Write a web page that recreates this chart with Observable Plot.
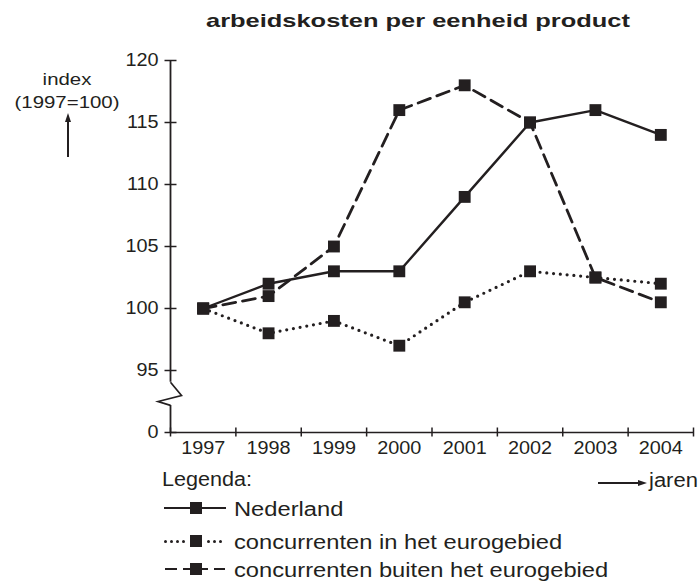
<!DOCTYPE html>
<html><head><meta charset="utf-8">
<script src="https://cdn.jsdelivr.net/npm/d3@7"></script>
<script src="https://cdn.jsdelivr.net/npm/@observablehq/plot@0.6"></script>
<style>
html,body{margin:0;padding:0;background:#fff;}
#page{position:relative;width:700px;height:584px;overflow:hidden;font-family:"Liberation Sans",Arial,sans-serif;color:#231f20;}
.t{position:absolute;white-space:nowrap;}
.t span{display:inline-block;}
#chart{position:absolute;left:0;top:40px;}
.pc{position:absolute;background:#231f20;}
</style></head><body>
<div id="page"><div id="chart"></div></div>
<script>
// ---- data ----
const years = [1997, 1998, 1999, 2000, 2001, 2002, 2003, 2004];
const nederland = [100, 102, 103, 103, 109, 115, 116, 114];
const eurogebied = [100, 98, 99, 97, 100.5, 103, 102.5, 102];
const buitenEurogebied = [100, 101, 105, 116, 118, 115, 102.5, 100.5];
const seriesNames = ["Nederland", "concurrenten in het eurogebied", "concurrenten buiten het eurogebied"];
const yTickValues = [95, 100, 105, 110, 115, 120];
const zeroLabel = "0";
const titleText = "arbeidskosten per eenheid product";
const yLabelLines = ["index", "(1997=100)"];
const xLabelText = "jaren";
const legendTitle = "Legenda:";

// value at which the broken axis shows "0"
const ZERO_AT = 90;
const BREAK_LOW = 92.18, BREAK_MID = 93.12, BREAK_HIGH = 94.06;
const ink = "#231f20";

const seriesValues = [nederland, eurogebied, buitenEurogebied];
const table = seriesNames.flatMap((name, s) =>
  seriesValues[s].map((v, i) => ({year: years[i], value: v, series: name})));
const bySeries = name => table.filter(d => d.series === name);
const xEdges = d3.range(years.length + 1).map(i => years[0] - 0.5 + i);

// custom symbols (pixel shapes)
const hTick = {draw(c) { c.moveTo(-6, 0); c.lineTo(6, 0); }};
const vTick = {draw(c) { c.moveTo(0, -5); c.lineTo(0, 4); }};
const zigzag = {draw(c) { c.moveTo(0, -11.6); c.lineTo(11, 1.7); c.lineTo(-12.4, 7.7); c.lineTo(0, 11.6); }};

const plot = Plot.plot({
  width: 700, height: 430,
  marginTop: 20, marginBottom: 38, marginLeft: 170, marginRight: 7,
  style: {fontFamily: '"Liberation Sans", Arial, sans-serif', fontSize: "18px", color: ink, background: "transparent", overflow: "visible"},
  x: {domain: [xEdges[0], xEdges[xEdges.length - 1]], ticks: years, tickSize: 0, tickPadding: 9, tickFormat: d => String(d), label: null},
  y: {domain: [ZERO_AT, yTickValues[yTickValues.length - 1]], ticks: [ZERO_AT, ...yTickValues], tickSize: 0, tickPadding: 12,
      tickFormat: d => d === ZERO_AT ? zeroLabel : String(d), label: null},
  marks: [
    Plot.ruleY([ZERO_AT], {x1: xEdges[0], x2: xEdges[xEdges.length - 1], stroke: ink, strokeWidth: 1.7}),
    Plot.ruleX([xEdges[0]], {y1: ZERO_AT, y2: BREAK_LOW, stroke: ink, strokeWidth: 1.8}),
    Plot.ruleX([xEdges[0]], {y1: BREAK_HIGH, y2: yTickValues[yTickValues.length - 1], stroke: ink, strokeWidth: 1.8}),
    Plot.dot([BREAK_MID], {x: () => xEdges[0], y: d => d, symbol: zigzag, stroke: ink, fill: "none", strokeWidth: 1.7}),
    Plot.dot([ZERO_AT, ...yTickValues], {x: () => xEdges[0], y: d => d, symbol: hTick, stroke: ink, fill: "none", strokeWidth: 1.5}),
    Plot.dot(xEdges, {x: d => d, y: () => ZERO_AT, symbol: vTick, stroke: ink, fill: "none", strokeWidth: 1.5}),
    Plot.line(bySeries(seriesNames[1]), {x: "year", y: "value", stroke: ink, strokeWidth: 3.2, strokeDasharray: "0 6.8", strokeLinecap: "round"}),
    Plot.line(bySeries(seriesNames[2]), {x: "year", y: "value", stroke: ink, strokeWidth: 2.8, strokeDasharray: "13 7"}),
    Plot.line(bySeries(seriesNames[0]), {x: "year", y: "value", stroke: ink, strokeWidth: 2.4}),
    Plot.dot(table, {x: "year", y: "value", symbol: "square", r: 6.7, fill: ink, stroke: null})
  ]
});
document.getElementById("chart").appendChild(plot);
plot.querySelectorAll('g[aria-label$="tick label"] text').forEach(t => {
  const L = t.getComputedTextLength();
  t.setAttribute("textLength", (L * 1.1).toFixed(1));
  t.setAttribute("lengthAdjust", "spacingAndGlyphs");
});

// ---- text & decorations ----
const page = document.getElementById("page");
function label(text, {x, baseline, size, weight = 400, width = null, k = 1, anchor = "start"}) {
  const d = document.createElement("div");
  d.className = "t";
  d.style.left = x + "px";
  d.style.top = (baseline - 0.8465 * size) + "px";
  d.style.fontSize = size + "px";
  d.style.lineHeight = size + "px";
  d.style.fontWeight = weight;
  const s = document.createElement("span");
  s.textContent = text;
  d.appendChild(s);
  page.appendChild(d);
  if (width) k = width / s.getBoundingClientRect().width;
  if (anchor === "middle") { d.style.transformOrigin = "center"; d.style.transform = `translateX(-50%) scaleX(${k})`; }
  else { d.style.transformOrigin = "left center"; d.style.transform = `scaleX(${k})`; }
}
function piece(x, y, w, h, extra = {}) {
  const d = document.createElement("div");
  d.className = "pc";
  Object.assign(d.style, {left: x + "px", top: y + "px", width: w + "px", height: h + "px"}, extra);
  page.appendChild(d);
}
const hline = (x1, x2, y, th) => piece(x1, y - th / 2, x2 - x1, th);
const vline = (x, y1, y2, th) => piece(x - th / 2, y1, th, y2 - y1);
const dotP = (cx, cy, r) => piece(cx - r, cy - r, 2 * r, 2 * r, {borderRadius: "50%"});
const square = (cx, cy, s) => piece(cx - s / 2, cy - s / 2, s, s);
const triUp = (cx, tipY, w, h) => piece(cx - w / 2, tipY, w, h, {clipPath: "polygon(50% 0, 100% 100%, 0 100%)"});
const triRight = (tipX, cy, w, h) => piece(tipX - w, cy - h / 2, w, h, {clipPath: "polygon(0 0, 100% 50%, 0 100%)"});

label(titleText, {x: 206, baseline: 27, size: 19, weight: 700, width: 424});
label(yLabelLines[0], {x: 67, baseline: 85, size: 17, k: 1.2, anchor: "middle"});
label(yLabelLines[1], {x: 67, baseline: 108.5, size: 17, k: 1.2, anchor: "middle"});
vline(68, 120, 157, 1.1);
triUp(68, 113, 6, 9);

label(legendTitle, {x: 162, baseline: 486, size: 20, k: 1.08});
hline(598, 641, 483, 1.1);
triRight(647, 483, 9, 6);
label(xLabelText, {x: 649, baseline: 487, size: 20, k: 1.1});

// legend rows
const rowY = [508, 541, 569];
const rowBase = [515.5, 548.5, 577];
hline(164, 226, rowY[0], 2.2);
square(196, rowY[0], 12);
[165, 171, 177, 183, 208, 214, 220].forEach(x => dotP(x, rowY[1], 1.5));
square(196, rowY[1], 12);
hline(165, 177, rowY[2], 2.6);
hline(183, 208, rowY[2], 2.6);
hline(214, 225, rowY[2], 2.6);
square(196, rowY[2], 12);
seriesNames.forEach((name, i) => label(name, {x: 234, baseline: rowBase[i], size: 20, k: 1.185}));
</script>
</body></html>
